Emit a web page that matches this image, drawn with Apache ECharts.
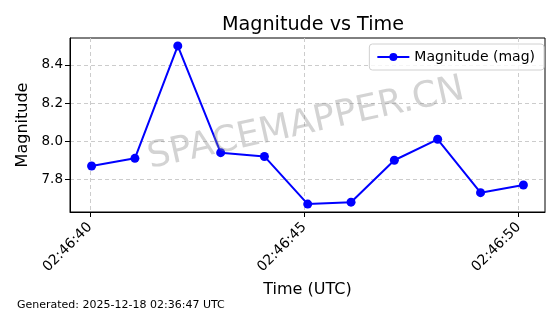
<!DOCTYPE html>
<html>
<head>
<meta charset="utf-8">
<script src="https://cdn.jsdelivr.net/npm/echarts@6/dist/echarts.min.js"></script>
<style>
html,body{margin:0;padding:0;background:#fff;}
#c{width:560px;height:314px;}
</style>
</head>
<body>
<div id="c"></div>
<script>
// seconds after 02:46:00 UTC
var timeSec = [40.04, 41.05, 42.05, 43.05, 44.07, 45.08, 46.09, 47.10, 48.11, 49.11, 50.11];
var magnitude = [7.87, 7.91, 8.50, 7.94, 7.92, 7.67, 7.68, 7.90, 8.01, 7.73, 7.77];
var xTicks = [40, 45, 50];
var yTicks = [7.8, 8.0, 8.2, 8.4];
var seriesName = 'Magnitude (mag)';

function pad(n){ return (n < 10 ? '0' : '') + n; }
function fmtTime(v){ return '02:46:' + pad(Math.round(v)); }

var xr = Math.max.apply(null, timeSec) - Math.min.apply(null, timeSec);
var xMin = Math.min.apply(null, timeSec) - 0.05 * xr;
var xMax = Math.max.apply(null, timeSec) + 0.05 * xr;
var yr = Math.max.apply(null, magnitude) - Math.min.apply(null, magnitude);
var yMin = Math.min.apply(null, magnitude) - 0.05 * yr;
var yMax = Math.max.apply(null, magnitude) + 0.05 * yr;

var data = timeSec.map(function(t, i){ return [t, magnitude[i]]; });
var FONT = 'DejaVu Sans';

var chart = echarts.init(document.getElementById('c'), null, {renderer: 'canvas'});
chart.setOption({
  animation: false,
  backgroundColor: '#fff',
  textStyle: {fontFamily: FONT},
  title: {
    text: 'Magnitude vs Time',
    left: 308, top: 11, textAlign: 'center',
    textStyle: {fontFamily: FONT, fontSize: 19.2, fontWeight: 'normal', color: '#000'}
  },
  grid: {left: 70, right: 15, top: 38, bottom: 102, show: true, borderColor: '#000', borderWidth: 1, backgroundColor: 'transparent'},
  legend: {
    right: 16, top: 44,
    data: [seriesName],
    itemWidth: 32, itemHeight: 10, itemGap: 8,
    padding: [6, 9, 6, 7],
    borderColor: '#d0d0d0', borderWidth: 1, borderRadius: 3,
    backgroundColor: 'rgba(255,255,255,0.8)',
    textStyle: {fontFamily: FONT, fontSize: 14, color: '#000'}
  },
  xAxis: {
    type: 'value', min: xMin, max: xMax,
    name: 'Time (UTC)', nameLocation: 'middle', nameGap: 70,
    nameTextStyle: {fontFamily: FONT, fontSize: 16, color: '#000'},
    axisLine: {show: true, onZero: false, lineStyle: {color: '#000', width: 1}},
    axisTick: {show: true, length: 5, lineStyle: {color: '#000'}, customValues: xTicks},
    axisLabel: {show: true, rotate: 45, margin: 13, fontFamily: FONT, fontSize: 14, color: '#000', customValues: xTicks, formatter: fmtTime, showMinLabel: true, showMaxLabel: true},
    splitLine: {show: true, lineStyle: {color: '#cccccc', type: [4, 3], width: 1}}
  },
  yAxis: {
    type: 'value', min: yMin, max: yMax,
    name: 'Magnitude', nameLocation: 'middle', nameGap: 38, nameRotate: 90,
    nameTextStyle: {fontFamily: FONT, fontSize: 16, color: '#000'},
    axisLine: {show: true, lineStyle: {color: '#000', width: 1}},
    axisTick: {show: true, length: 5, lineStyle: {color: '#000'}, customValues: yTicks},
    axisLabel: {show: true, margin: 7, fontFamily: FONT, fontSize: 13.5, color: '#000', customValues: yTicks, formatter: function(v){ return v.toFixed(1); }},
    splitLine: {show: true, lineStyle: {color: '#cccccc', type: [4, 3], width: 1}}
  },
  graphic: [
    {
      type: 'text',
      x: 306, y: 124, rotation: 12.5 * Math.PI / 180,
      style: {text: 'SPACEMAPPER.CN', x: 0, y: 0, align: 'center', verticalAlign: 'middle', font: '36px "DejaVu Sans"', fill: 'rgba(128,128,128,0.35)'},
      z: 100
    },
    {
      type: 'text', left: 17, top: 300,
      style: {text: 'Generated: 2025-12-18 02:36:47 UTC', font: '11px "DejaVu Sans"', fill: '#000'}
    }
  ],
  series: [{
    name: seriesName, type: 'line', data: data,
    symbol: 'circle', symbolSize: 9,
    lineStyle: {color: '#0000ff', width: 2},
    itemStyle: {color: '#0000ff'},
    z: 3
  }]
});
</script>
</body>
</html>
